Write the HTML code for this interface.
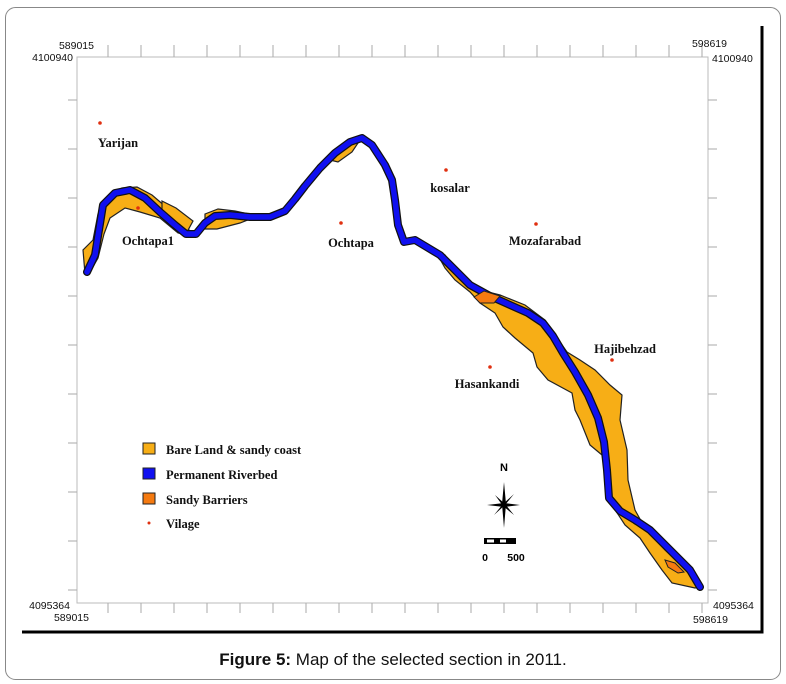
<!DOCTYPE html>
<html><head><meta charset="utf-8"><style>
html,body{margin:0;padding:0;background:#fff;width:786px;height:684px;overflow:hidden}
svg{display:block}
.ser{font-family:"Liberation Serif",serif;font-weight:bold;font-size:12.5px;fill:#111}
.crd{font-family:"Liberation Sans",sans-serif;font-size:10.5px;fill:#111}
</style></head><body>
<svg width="786" height="684" viewBox="0 0 786 684">
<rect x="5.5" y="7.5" width="775" height="672" rx="10" fill="none" stroke="#888" stroke-width="1"/>
<line x1="762" y1="26" x2="762" y2="633" stroke="#000" stroke-width="3"/>
<line x1="22" y1="632" x2="763.5" y2="632" stroke="#000" stroke-width="3"/>
<rect x="77" y="57" width="631" height="546" fill="none" stroke="#bbb" stroke-width="1"/>
<g id="ticks"></g>
<text class="crd" x="94" y="49" text-anchor="end">589015</text>
<text class="crd" x="73" y="61" text-anchor="end">4100940</text>
<text class="crd" x="727" y="47" text-anchor="end">598619</text>
<text class="crd" x="712" y="62">4100940</text>
<text class="crd" x="70" y="609" text-anchor="end">4095364</text>
<text class="crd" x="89" y="621" text-anchor="end">589015</text>
<text class="crd" x="713" y="609">4095364</text>
<text class="crd" x="728" y="623" text-anchor="end">598619</text>

<g fill="#f7ae16" stroke="#222" stroke-width="1.2">
<polygon points="85,274 83,250 93,240 98,214 107,197 122,188 137,187 152,195 166,207 185,222 192,236 178,233 160,218 140,212 125,208 110,218 104,234 98,258 90,272"/>
<polygon points="162,201 176,208 193,221 187,232 170,222 162,214"/>
<polygon points="205,214 218,209 235,211 258,216 240,223 217,229 205,229"/>
<polygon points="330,160 345,146 360,140 352,152 338,162"/>
<polygon points="435,250 445,268 455,280 470,292 480,303 495,313 503,327 515,338 533,353 537,367 548,380 572,393 575,410 580,420 590,445 602,455 607,480 612,505 625,525 640,538 650,553 662,570 672,583 695,588 700,587 690,575 678,562 665,550 645,528 635,510 628,480 627,450 620,420 622,395 610,385 595,370 580,360 567,352 555,335 545,320 525,305 500,295 480,290 465,280 455,270 445,255"/>
</g>
<polyline fill="none" stroke="#111" stroke-width="8" stroke-linejoin="round" stroke-linecap="round" points="87,272 95,255 99,230 103,205 115,193 130,190 145,198 160,212 175,225 186,234 196,234 205,223 215,216 230,215 250,217 270,217 285,211 295,199 305,186 320,168 335,153 350,142 362,138 372,145 385,165 392,180 395,200 398,225 404,242 415,240 425,246 440,255 452,267 470,285 490,296 510,305 528,313 543,323 553,336 563,353 575,372 588,395 598,418 604,442 607,470 609,498 620,511 635,520 650,530 665,545 680,560 690,570 700,587"/>
<polyline fill="none" stroke="#1010f0" stroke-width="5.5" stroke-linejoin="round" stroke-linecap="round" points="87,272 95,255 99,230 103,205 115,193 130,190 145,198 160,212 175,225 186,234 196,234 205,223 215,216 230,215 250,217 270,217 285,211 295,199 305,186 320,168 335,153 350,142 362,138 372,145 385,165 392,180 395,200 398,225 404,242 415,240 425,246 440,255 452,267 470,285 490,296 510,305 528,313 543,323 553,336 563,353 575,372 588,395 598,418 604,442 607,470 609,498 620,511 635,520 650,530 665,545 680,560 690,570 700,587"/>
<polygon points="474,297 484,291 500,296 494,303 480,303" fill="#f57a10" stroke="#222" stroke-width="1"/>
<polygon points="665,560 675,563 684,572 678,573 668,567" fill="#f57a10" stroke="#222" stroke-width="1"/>

<g id="villages"></g>

<g>
<rect x="143" y="443" width="12" height="11" fill="#f7ae16" stroke="#222"/>
<text class="ser" x="166" y="454">Bare Land &amp; sandy coast</text>
<rect x="143" y="468" width="12" height="11" fill="#1010f0" stroke="#222"/>
<text class="ser" x="166" y="479">Permanent Riverbed</text>
<rect x="143" y="493" width="12" height="11" fill="#f57a10" stroke="#222"/>
<text class="ser" x="166" y="504">Sandy Barriers</text>
<circle cx="149" cy="523" r="1.5" fill="#e03010"/>
<text class="ser" x="166" y="528">Vilage</text>
</g>

<g>
<text x="504" y="471" text-anchor="middle" font-family="Liberation Sans Narrow, Liberation Sans, sans-serif" font-size="11" font-weight="bold">N</text>
<polygon points="504,482 506,504 504,528 502,504" fill="#000"/>
<polygon points="487,505 504,503 520,505 504,507" fill="#000"/>
<polygon points="495,495 505,504 514,515 503,506" fill="#000"/>
<polygon points="514,494 505,505 494,515 503,504" fill="#000"/>
</g>
<g>
<rect x="484" y="538" width="32" height="6" fill="#000"/>
<rect x="487" y="539.5" width="7" height="3" fill="#fff"/>
<rect x="500" y="539.5" width="6" height="3" fill="#fff"/>
<text x="485" y="561" text-anchor="middle" font-family="Liberation Sans, sans-serif" font-size="10.5" font-weight="bold">0</text>
<text x="516" y="561" text-anchor="middle" font-family="Liberation Sans, sans-serif" font-size="10.5" font-weight="bold">500</text>
</g>

<text x="393" y="665" text-anchor="middle" font-family="Liberation Sans, sans-serif" font-size="17" fill="#111"><tspan font-weight="bold">Figure 5:</tspan> Map of the selected section in 2011.</text>
</svg>
<script>
const villageNames = ["Yarijan","Ochtapa1","Ochtapa","kosalar","Mozafarabad","Hasankandi","Hajibehzad"];
const villageX = [100,138,341,446,536,490,612];
const villageY = [123,208,223,170,224,367,360];
const labelX = [118,148,351,450,545,487,625];
const labelY = [147,245,247,192,245,388,353];
const xTickCount = 19;
const yTickCount = 11;
const NS = "http://www.w3.org/2000/svg";
const frame = {x0:77, y0:57, x1:708, y1:603};
const tg = document.getElementById('ticks');
function ln(x1,y1,x2,y2){
  const l = document.createElementNS(NS,'line');
  l.setAttribute('x1',x1);l.setAttribute('y1',y1);l.setAttribute('x2',x2);l.setAttribute('y2',y2);
  l.setAttribute('stroke','#aaa');l.setAttribute('stroke-width','1');
  
  
  tg.appendChild(l);
}
for(let k=0;k<xTickCount;k++){
  const x = 108 + k*(frame.x1-6-108)/(xTickCount-1);
  ln(x,frame.y0-12,x,frame.y0);
  ln(x,frame.y1,x,frame.y1+10);
}
for(let k=0;k<yTickCount;k++){
  const y = 100 + k*49;
  ln(frame.x0-9,y,frame.x0,y);
  ln(frame.x1,y,frame.x1+9,y);
}
const vg = document.getElementById('villages');
for(let i=0;i<villageNames.length;i++){
  const c = document.createElementNS(NS,'circle');
  c.setAttribute('cx',villageX[i]);c.setAttribute('cy',villageY[i]);c.setAttribute('r','1.8');c.setAttribute('fill','#e03010');
  
  
  vg.appendChild(c);
  const t = document.createElementNS(NS,'text');
  t.setAttribute('x',labelX[i]);t.setAttribute('y',labelY[i]);t.setAttribute('text-anchor','middle');t.setAttribute('class','ser');
  t.textContent = villageNames[i];
  
  
  vg.appendChild(t);
}
</script>
</body></html>
